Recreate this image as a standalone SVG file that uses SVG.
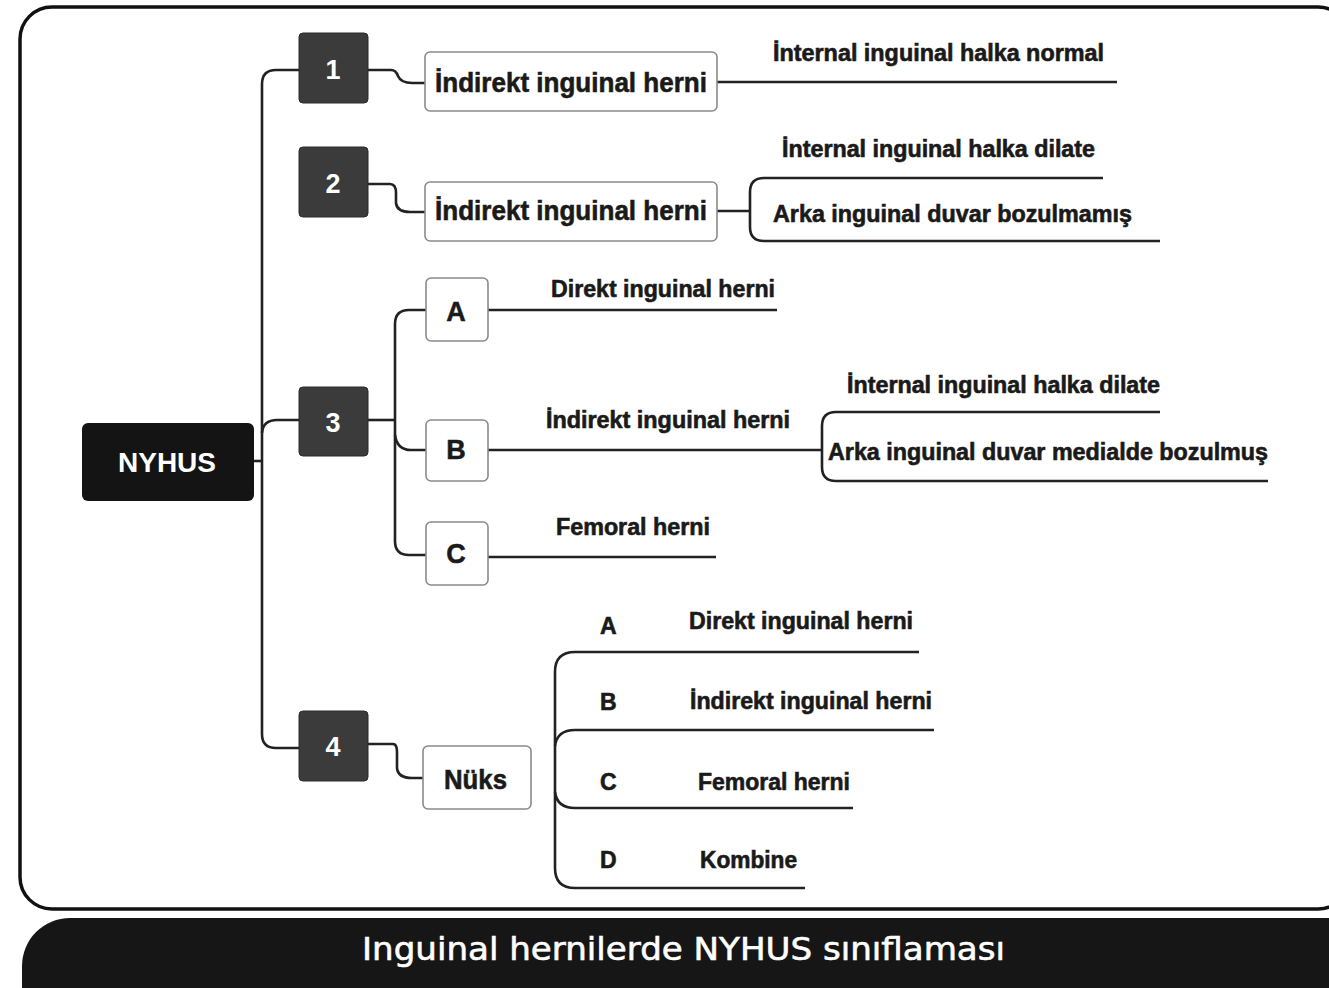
<svg xmlns="http://www.w3.org/2000/svg" width="1329" height="988" viewBox="0 0 1329 988">
<style>
.num{fill:#3b3b3b;stroke:#2a2a2a;stroke-width:1}
.numt{fill:#fff;font-family:"Liberation Sans",Arial,sans-serif;font-weight:bold;font-size:27px;text-anchor:middle}
.box{fill:#fff;stroke:#8a8a8a;stroke-width:1.6}
.bt{fill:#1a1a1a;stroke:#1a1a1a;stroke-width:0.6;font-family:"Liberation Sans",Arial,sans-serif;font-weight:bold;font-size:28px}
.lt{fill:#1a1a1a;stroke:#1a1a1a;stroke-width:0.5;font-family:"Liberation Sans",Arial,sans-serif;font-weight:bold;font-size:27px;text-anchor:middle}
.st{fill:#1a1a1a;stroke:#1a1a1a;stroke-width:0.6;font-family:"Liberation Sans",Arial,sans-serif;font-weight:bold;font-size:23px}
.con{fill:none;stroke:#222;stroke-width:2.6;stroke-linecap:butt}
</style>
<rect x="0" y="0" width="1329" height="988" fill="#fff"/>
<g id="frame">
<rect x="20" y="7" width="1330" height="902" rx="32" fill="#fff" stroke="#111" stroke-width="3.5"/>
</g>
<g id="banner">
<rect x="22" y="918" width="1360" height="130" rx="48" fill="#161616"/>
<text x="362" y="960" textLength="643" lengthAdjust="spacingAndGlyphs" fill="#fff" stroke="#fff" stroke-width="0.6" font-family="DejaVu Sans, sans-serif" font-size="32">Inguinal hernilerde NYHUS sınıflaması</text>
</g>
<g id="connectors">
<path class="con" d="M299 70 H276 Q262 70 262 84 V734 Q262 748 276 748 H299"/>
<path class="con" d="M262 433 Q263 420 277 420 H299"/>
<path class="con" d="M254 461 H262"/>
<path class="con" d="M368 70 H391 Q396 70 398 76 Q401 83 412 83 H425"/>
<path class="con" d="M717 82 H1117"/>
<path class="con" d="M368 184 H390 Q396 184 396 193 V203 Q397 212 410 212 H425"/>
<path class="con" d="M717 211 H750"/>
<path class="con" d="M1103 178 H764 Q750 178 750 192 V227 Q750 241 764 241 H1160"/>
<path class="con" d="M367 420 H395"/>
<path class="con" d="M426 310 H409 Q395 310 395 324 V541 Q395 555 409 555 H426"/>
<path class="con" d="M395 435 Q397 450 411 450 H426"/>
<path class="con" d="M488 310 H777"/>
<path class="con" d="M488 450 H822"/>
<path class="con" d="M1160 412 H836 Q822 412 822 426 V467 Q822 481 836 481 H1268"/>
<path class="con" d="M488 557 H716"/>
<path class="con" d="M367 744 H393 Q397 744 397 752 V768 Q398 778 412 778 H423"/>
<path class="con" d="M919 652 H575 Q555 652 555 672 V868 Q555 888 575 888 H805"/>
<path class="con" d="M555 746 Q557 730 575 730 H934"/>
<path class="con" d="M555 792 Q557 808 575 808 H853"/>
</g>
<g id="nyhus">
<rect x="82" y="423" width="172" height="78" rx="6" fill="#141414"/>
<text x="167" y="472" fill="#fff" font-family="Liberation Sans, Arial, sans-serif" font-weight="bold" font-size="28" text-anchor="middle">NYHUS</text>
</g>
<g id="n1"><rect class="num" x="299" y="33" width="69" height="70" rx="4"/><text class="numt" x="333" y="79">1</text></g>
<g id="n2"><rect class="num" x="299" y="147" width="69" height="70" rx="4"/><text class="numt" x="333" y="193">2</text></g>
<g id="n3"><rect class="num" x="299" y="387" width="69" height="69" rx="4"/><text class="numt" x="333" y="432">3</text></g>
<g id="n4"><rect class="num" x="299" y="711" width="69" height="70" rx="4"/><text class="numt" x="333" y="756">4</text></g>
<g id="t1">
<rect class="box" x="425" y="52" width="292" height="59" rx="5"/>
<text class="bt" x="435" y="92" textLength="272" lengthAdjust="spacingAndGlyphs">İndirekt inguinal herni</text>
<text class="st" x="773" y="61" textLength="331" lengthAdjust="spacingAndGlyphs">İnternal inguinal halka normal</text>
</g>
<g id="t2">
<rect class="box" x="425" y="182" width="292" height="59" rx="5"/>
<text class="bt" x="435" y="220" textLength="272" lengthAdjust="spacingAndGlyphs">İndirekt inguinal herni</text>
<text class="st" x="782" y="157" textLength="313" lengthAdjust="spacingAndGlyphs">İnternal inguinal halka dilate</text>
<text class="st" x="773" y="222" textLength="359" lengthAdjust="spacingAndGlyphs">Arka inguinal duvar bozulmamış</text>
</g>
<g id="t3a">
<rect class="box" x="426" y="278" width="62" height="63" rx="5"/>
<text class="lt" x="456" y="321">A</text>
<text class="st" x="551" y="297" textLength="224" lengthAdjust="spacingAndGlyphs">Direkt inguinal herni</text>
</g>
<g id="t3b">
<rect class="box" x="426" y="420" width="62" height="61" rx="5"/>
<text class="lt" x="456" y="459">B</text>
<text class="st" x="546" y="428" textLength="244" lengthAdjust="spacingAndGlyphs">İndirekt inguinal herni</text>
<text class="st" x="847" y="393" textLength="313" lengthAdjust="spacingAndGlyphs">İnternal inguinal halka dilate</text>
<text class="st" x="828" y="460" textLength="440" lengthAdjust="spacingAndGlyphs">Arka inguinal duvar medialde bozulmuş</text>
</g>
<g id="t3c">
<rect class="box" x="426" y="522" width="62" height="63" rx="5"/>
<text class="lt" x="456" y="563">C</text>
<text class="st" x="556" y="535" textLength="154" lengthAdjust="spacingAndGlyphs">Femoral herni</text>
</g>
<g id="t4">
<rect class="box" x="423" y="746" width="108" height="63" rx="5"/>
<text class="bt" x="444" y="789" font-size="25" textLength="63" lengthAdjust="spacingAndGlyphs">Nüks</text>
</g>
<g id="t4a">
<text class="st" x="600" y="634" font-size="21">A</text>
<text class="st" x="689" y="629" textLength="224" lengthAdjust="spacingAndGlyphs">Direkt inguinal herni</text>
</g>
<g id="t4b">
<text class="st" x="600" y="710" font-size="21">B</text>
<text class="st" x="690" y="709" textLength="242" lengthAdjust="spacingAndGlyphs">İndirekt inguinal herni</text>
</g>
<g id="t4c">
<text class="st" x="600" y="790" font-size="21">C</text>
<text class="st" x="698" y="790" textLength="152" lengthAdjust="spacingAndGlyphs">Femoral herni</text>
</g>
<g id="t4d">
<text class="st" x="600" y="868" font-size="21">D</text>
<text class="st" x="700" y="868" textLength="97" lengthAdjust="spacingAndGlyphs">Kombine</text>
</g>
</svg>
